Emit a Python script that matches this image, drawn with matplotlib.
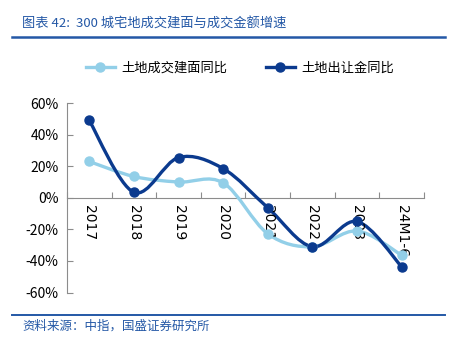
import matplotlib.pyplot as plt
from matplotlib.path import Path
from matplotlib.patches import PathPatch
from matplotlib.lines import Line2D
from matplotlib.ticker import FuncFormatter

plt.rcParams['font.family'] = ['Noto Sans CJK SC', 'DejaVu Sans']

categories = ["2017", "2018", "2019", "2020", "2021", "2022", "2023", "24M1-6"]
area_yoy = [0.23, 0.135, 0.10, 0.095, -0.228, -0.31, -0.21, -0.364]   # 土地成交建面同比
fee_yoy = [0.49, 0.035, 0.255, 0.185, -0.063, -0.31, -0.15, -0.437]   # 土地出让金同比
labels = ["土地成交建面同比", "土地出让金同比"]

light = "#92CFE8"
dark = "#0B3A8E"
blue = "#2458A6"
gray = "#8C8C8C"


def smooth_path(xs, ys):
    # Excel-style smoothed line: cubic bezier through every point
    pts = list(zip(xs, ys))
    verts = [pts[0]]
    codes = [Path.MOVETO]
    n = len(pts)
    for i in range(n - 1):
        p0 = pts[max(i - 1, 0)]
        p1 = pts[i]
        p2 = pts[i + 1]
        p3 = pts[min(i + 2, n - 1)]
        c1 = (p1[0] + (p2[0] - p0[0]) / 6, p1[1] + (p2[1] - p0[1]) / 6)
        c2 = (p2[0] - (p3[0] - p1[0]) / 6, p2[1] - (p3[1] - p1[1]) / 6)
        verts += [c1, c2, p2]
        codes += [Path.CURVE4] * 3
    return Path(verts, codes)


fig = plt.figure(figsize=(4.58, 3.39), dpi=100)
ax = fig.add_axes([0.146, 0.137, 0.78, 0.559])

x = list(range(len(categories)))
for vals, col in [(area_yoy, light), (fee_yoy, dark)]:
    ax.add_patch(PathPatch(smooth_path(x, vals), fill=False, edgecolor=col,
                           lw=2.4, capstyle='round', zorder=3))
    ax.plot(x, vals, 'o', color=col, ms=6.5, zorder=4)

ax.set_xlim(-0.5, len(categories) - 0.5)
ax.set_ylim(-0.6, 0.6)
ax.set_yticks([-0.6, -0.4, -0.2, 0, 0.2, 0.4, 0.6])
ax.yaxis.set_major_formatter(FuncFormatter(lambda v, p: f"{v * 100:.0f}%"))
ax.tick_params(axis='y', direction='in', length=4, color=gray, labelsize=10, pad=6)

for s in ['top', 'right']:
    ax.spines[s].set_visible(False)
ax.spines['left'].set_color(gray)
ax.spines['bottom'].set_position(('data', 0))
ax.spines['bottom'].set_color(gray)

ax.set_xticks([i - 0.5 for i in range(len(categories) + 1)])
ax.set_xticklabels([])
ax.tick_params(axis='x', direction='in', length=4, color=gray)
for i, c in enumerate(categories):
    ax.text(i, -0.045, c, rotation=-90, ha='center', va='top', fontsize=10,
            family='DejaVu Sans')

handles = [Line2D([], [], color=light, lw=2.4, marker='o', ms=6.5),
           Line2D([], [], color=dark, lw=2.4, marker='o', ms=6.5)]
fig.legend(handles, labels, loc='center left', bbox_to_anchor=(74 / 458, 1 - 68 / 339),
           ncol=2, frameon=False, fontsize=9.5, handlelength=2.2,
           columnspacing=2.9, handletextpad=0.5)

# title, rules and source
fig.text(22 / 458, 1 - 24 / 339, "图表 42:  300 城宅地成交建面与成交金额增速",
         color=blue, fontsize=9.5, va='center', ha='left', style='italic')
fig.add_artist(Line2D([12 / 458, 445 / 458], [1 - 37 / 339] * 2, color=blue, lw=1.8))
fig.add_artist(Line2D([12 / 458, 445 / 458], [1 - 315 / 339] * 2, color=blue, lw=1.4))
fig.text(22 / 458, 1 - 326 / 339, "资料来源：中指，国盛证券研究所",
         color=blue, fontsize=9, va='center', ha='left', style='italic')

fig.savefig("out.png", dpi=100)
